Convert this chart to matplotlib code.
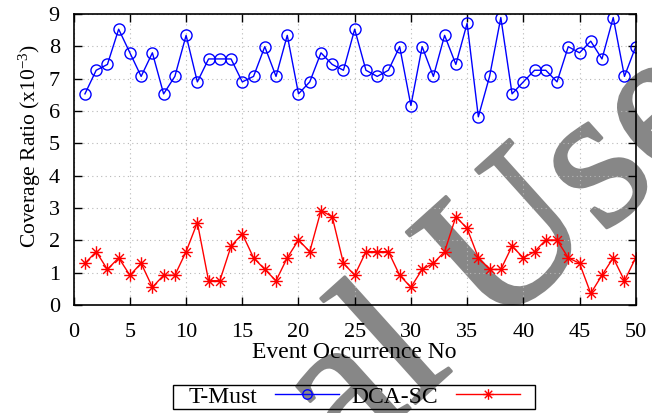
import matplotlib
matplotlib.use("Agg")
import matplotlib.pyplot as plt
import matplotlib.patheffects as pe
from matplotlib.path import Path
from matplotlib.patches import Rectangle

events = list(range(1, 51))
t_must = [6.53, 7.26, 7.44, 8.53, 7.80, 7.07, 7.80, 6.53, 7.07, 8.34,
          6.90, 7.61, 7.61, 7.61, 6.90, 7.07, 7.99, 7.07, 8.34, 6.53,
          6.90, 7.80, 7.44, 7.26, 8.53, 7.26, 7.07, 7.26, 7.99, 6.17,
          7.99, 7.07, 8.34, 7.44, 8.71, 5.82, 7.07, 8.89, 6.53, 6.90,
          7.26, 7.26, 6.90, 7.99, 7.80, 8.16, 7.61, 8.89, 7.07, 7.99]
dca_sc = [1.29, 1.65, 1.10, 1.46, 0.92, 1.29, 0.55, 0.92, 0.92, 1.65,
          2.55, 0.75, 0.75, 1.82, 2.20, 1.46, 1.10, 0.75, 1.46, 2.01,
          1.65, 2.92, 2.73, 1.29, 0.92, 1.65, 1.65, 1.65, 0.92, 0.55,
          1.10, 1.29, 1.65, 2.73, 2.37, 1.46, 1.10, 1.10, 1.82, 1.46,
          1.65, 2.01, 2.01, 1.46, 1.29, 0.36, 0.92, 1.46, 0.75, 1.46]
series_labels = ["T-Must", "DCA-SC"]
x_ticks = [0, 5, 10, 15, 20, 25, 30, 35, 40, 45, 50]
y_ticks = [0, 1, 2, 3, 4, 5, 6, 7, 8, 9]

plt.rcParams['font.family'] = ['Liberation Serif', 'DejaVu Serif']
plt.rcParams['mathtext.fontset'] = 'custom'
plt.rcParams['mathtext.rm'] = 'Liberation Serif'
plt.rcParams['mathtext.it'] = 'Liberation Serif:italic'

W, H = 652, 413
fig = plt.figure(figsize=(W / 100, H / 100), dpi=100)
fig.patch.set_facecolor('white')

# watermark (behind the chart)
wm_color = '#878787'
wm_kw = dict(fontsize=147, color=wm_color, rotation=42,
             rotation_mode='anchor', va='baseline', zorder=0.5,
             family='Liberation Serif',
             path_effects=[pe.withStroke(linewidth=2, foreground=wm_color)])
fig.text(492.5 / W, 1 - 334.3 / H, "Use", ha='left', **wm_kw)
fig.text(454.4 / W, 1 - 368.6 / H, "nal", ha='right', **wm_kw)

ax = fig.add_axes([73.7 / W, 1 - 305 / H, 562 / W, 291 / H])
ax.set_zorder(1)
ax.patch.set_alpha(0)

c = 0.7071
star = Path([(-1, 0), (1, 0), (0, -1), (0, 1), (-c, -c), (c, c), (-c, c), (c, -c)],
            [Path.MOVETO, Path.LINETO] * 4)

ax.plot(events, t_must, color='#0000ff', lw=1.0, marker='o', ms=8,
        mfc='none', mec='#0000ff', mew=1.0, label=series_labels[0])
ax.plot(events, dca_sc, color='#ff0000', lw=1.0, marker=star, ms=9,
        mfc='none', mec='#ff0000', mew=1.0, label=series_labels[1])

ax.set_xlim(0, 50)
ax.set_ylim(0, 9)
ax.set_xticks(x_ticks)
ax.set_yticks(y_ticks)
ax.tick_params(direction='in', top=True, right=True, length=6, width=1,
               labelsize=16)
ax.tick_params(axis='x', pad=13)
ax.tick_params(axis='y', pad=10)
ax.grid(True, color='#b8b8b8', linestyle=(0, (1, 3)), linewidth=0.8)
for s in ax.spines.values():
    s.set_linewidth(1.2)

ax.set_xlabel("Event Occurrence No", fontsize=17, labelpad=0)
ax.set_ylabel(r"Coverage Ratio (x10$^{-3}$)", fontsize=15.5)
ax.yaxis.set_label_coords(-0.0553, 0.545)

# legend
box_x0, box_x1, box_y0, box_y1 = 173 / W, 535 / W, 1 - 409 / H, 1 - 385 / H
fig.patches.append(Rectangle((box_x0, box_y0), box_x1 - box_x0, box_y1 - box_y0,
                             transform=fig.transFigure, fill=False,
                             edgecolor='black', linewidth=1.0, zorder=4))
leg = fig.legend(loc='center', bbox_to_anchor=((box_x0 + box_x1) / 2, (box_y0 + box_y1) / 2),
                 ncol=2, markerfirst=False, fontsize=17, frameon=False,
                 handlelength=2.7, handletextpad=0.75, columnspacing=0.55,
                 borderpad=0, borderaxespad=0, markerscale=0.85)

fig.savefig("out.png", dpi=100)
